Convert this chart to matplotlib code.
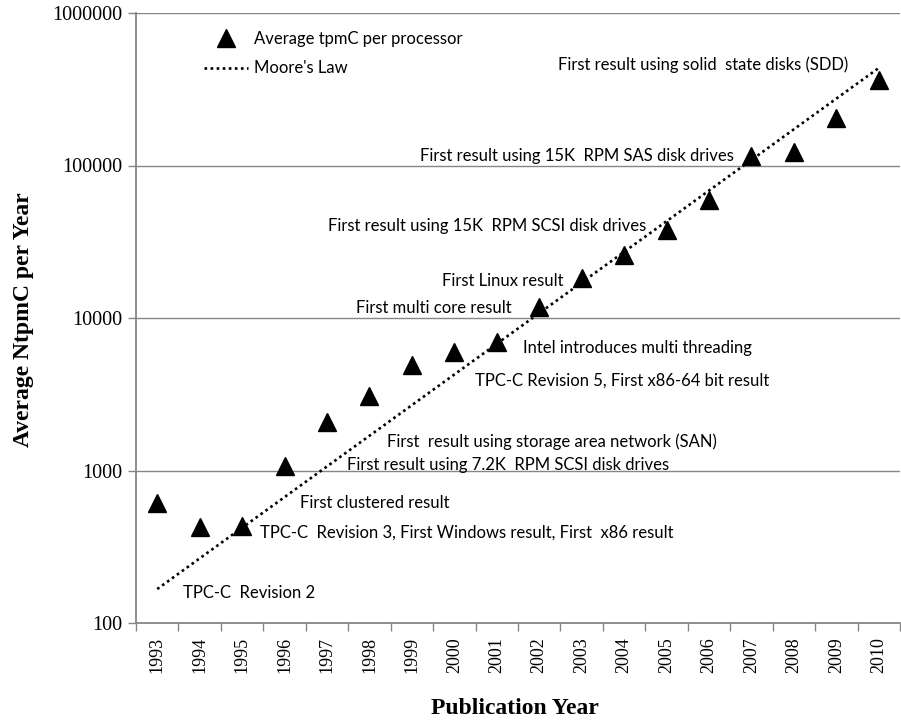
import matplotlib
matplotlib.use("Agg")
import matplotlib.pyplot as plt
import numpy as np

years = ["1993", "1994", "1995", "1996", "1997", "1998", "1999", "2000", "2001",
         "2002", "2003", "2004", "2005", "2006", "2007", "2008", "2009", "2010"]
avg_tpmc = [612, 427, 430, 1070, 2080, 3080, 4900, 5980, 6970,
            11800, 18300, 25900, 37700, 59400, 115000, 123000, 205000, 364000]
moore_years = ["1993", "2010"]
moore_values = [167, 436000]

annotations = [
    ("TPC-C  Revision 2", 0.61, 157),
    ("TPC-C  Revision 3, First Windows result, First  x86 result", 2.42, 389),
    ("First clustered result", 3.36, 612),
    ("First result using 7.2K  RPM SCSI disk drives", 4.47, 1086),
    ("First  result using storage area network (SAN)", 5.41, 1538),
    ("TPC-C Revision 5, First x86-64 bit result", 7.49, 3863),
    ("Intel introduces multi threading", 8.62, 6356),
    ("First multi core result", 4.68, 11650),
    ("First Linux result", 6.71, 17500),
    ("First result using 15K  RPM SCSI disk drives", 4.02, 40100),
    ("First result using 15K  RPM SAS disk drives", 6.20, 115000),
    ("First result using solid  state disks (SDD)", 9.44, 456000),
]

ANN_FONT = ["Lato", "DejaVu Sans"]
ANN_SIZE = 12
GRAY = "#868686"

fig = plt.figure(figsize=(9.01, 7.28), dpi=100)
ax = fig.add_axes([136 / 901, 1 - 623 / 728, 764 / 901, 610 / 728])

x = np.arange(len(years))
mx = [years.index(y) for y in moore_years]

ax.plot(x, avg_tpmc, linestyle="none", marker="^", markersize=12.5,
        color="black", label="Average tpmC per processor", zorder=4)
ax.plot(mx, moore_values, linestyle=(0, (1, 1.3)), linewidth=1.9,
        color="black", label="Moore's Law", zorder=3)

ax.set_yscale("log")
ax.set_ylim(100, 1000000)
ax.set_xlim(-0.5, len(years) - 0.5)

ax.set_yticks([100, 1000, 10000, 100000, 1000000])
ax.set_yticklabels(["100", "1000", "10000", "100000", "1000000"])
ax.yaxis.set_minor_locator(matplotlib.ticker.NullLocator())
ax.yaxis.grid(True, color=GRAY, linewidth=1.0)
ax.set_axisbelow(True)

ax.set_xticks(np.arange(-0.5, len(years), 1.0))
ax.set_xticklabels([])
ax.set_xticks(x, minor=True)
ax.set_xticklabels(years, minor=True, rotation=90)
ax.tick_params(axis="x", which="major", length=6, color=GRAY, width=1)
ax.tick_params(axis="x", which="minor", length=0, pad=10)
ax.tick_params(axis="y", which="major", length=6, color=GRAY, width=1, pad=4)

for lab in ax.get_xticklabels(minor=True):
    lab.set_fontfamily("Liberation Serif")
    lab.set_fontsize(13)
for lab in ax.get_yticklabels():
    lab.set_fontfamily("Liberation Serif")
    lab.set_fontsize(14.5)

for s in ["top", "right"]:
    ax.spines[s].set_visible(False)
for s in ["left", "bottom"]:
    ax.spines[s].set_color(GRAY)
    ax.spines[s].set_linewidth(1.3)

for text, tx, ty in annotations:
    ax.text(tx, ty, text, ha="left", va="center", fontsize=ANN_SIZE,
            family=ANN_FONT, color="black", zorder=5)

fig.text(515 / 901, 1 - 708 / 728, "Publication Year", ha="center", va="center",
         fontsize=17, fontweight="bold", family="Liberation Serif")
fig.text(24 / 901, 1 - 320 / 728, "Average NtpmC per Year", ha="center", va="center",
         rotation=90, fontsize=17, fontweight="bold", family="Liberation Serif")

leg = ax.legend(loc="upper left", bbox_to_anchor=((204 - 136) / 764, 1 - (31 - 13) / 610),
                frameon=False, handlelength=2.64, handletextpad=0.36,
                labelspacing=0.8, borderpad=0, borderaxespad=0,
                prop={"family": ANN_FONT, "size": ANN_SIZE})

fig.savefig("out.png", dpi=100)
